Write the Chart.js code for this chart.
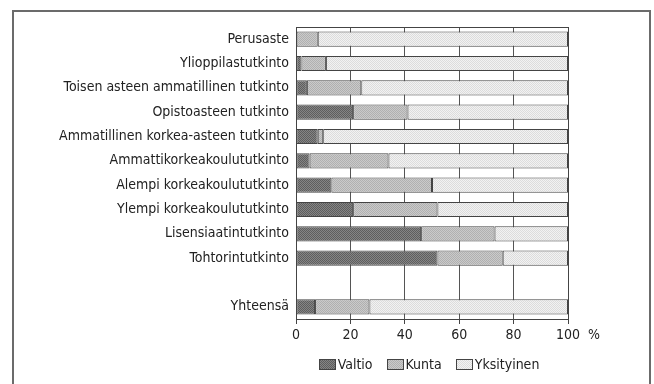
<!DOCTYPE html>
<html>
<head>
<meta charset="utf-8">
<script src="https://cdn.jsdelivr.net/npm/chart.js@4.4.0/dist/chart.umd.min.js"></script>
<style>
  html, body { margin: 0; padding: 0; background: #fff; overflow: hidden; }
  #wrap { position: relative; width: 654px; height: 384px; }
  #frame { position: absolute; left: 12px; top: 10px; width: 639px; height: 400px; border: 2px solid #6b6b6b; box-sizing: border-box; }
  #chart { position: absolute; left: 0; top: 0; }
</style>
</head>
<body>
<div id="wrap">
  <div id="frame"></div>
  <canvas id="chart" width="654" height="384"></canvas>
</div>
<script>
// degree levels, last row is the total (empty row as spacer)
const categories = [
  'Perusaste',
  'Ylioppilastutkinto',
  'Toisen asteen ammatillinen tutkinto',
  'Opistoasteen tutkinto',
  'Ammatillinen korkea-asteen tutkinto',
  'Ammattikorkeakoulututkinto',
  'Alempi korkeakoulututkinto',
  'Ylempi korkeakoulututkinto',
  'Lisensiaatintutkinto',
  'Tohtorintutkinto',
  '',
  'Yhteensä'
];
const valtio     = [0, 2, 4, 21, 8, 5, 13, 21, 46, 52, null, 7];
const kunta      = [8, 9, 20, 20, 2, 29, 37, 31, 27, 24, null, 20];
const yksityinen = [92, 89, 76, 59, 90, 66, 50, 48, 27, 24, null, 73];
const xTicks = [0, 20, 40, 60, 80, 100];

const FONT = '"Liberation Sans Narrow", "DejaVu Sans Condensed", sans-serif';
const SIZE = 14;
const TEXT = '#222';
const LINE = '#444';

// small stipple tiles so the fills look like the printed raster
function stipple(base, dot) {
  const c = document.createElement('canvas');
  c.width = 2; c.height = 2;
  const g = c.getContext('2d');
  g.fillStyle = base;
  g.fillRect(0, 0, 2, 2);
  g.fillStyle = dot;
  g.fillRect(0, 0, 1, 1);
  g.fillRect(1, 1, 1, 1);
  return g.createPattern(c, 'repeat');
}

const fills = [
  stipple('#858585', '#5e5e5e'),
  stipple('#cacaca', '#b0b0b0'),
  stipple('#f2f2f2', '#dcdcdc')
];

const extras = {
  id: 'extras',
  afterDatasetsDraw(chart) {
    const { ctx, chartArea: a } = chart;
    ctx.save();
    ctx.strokeStyle = LINE;
    ctx.lineWidth = 1;
    ctx.strokeRect(Math.round(a.left) + 0.5, Math.round(a.top) + 0.5,
      Math.round(a.right - a.left), Math.round(a.bottom - a.top));
    ctx.restore();
  },
  afterDraw(chart) {
    const { ctx, chartArea: a } = chart;
    const x = chart.scales.x;
    ctx.save();
    ctx.font = SIZE + 'px ' + FONT;
    ctx.fillStyle = TEXT;
    ctx.textBaseline = 'middle';

    // percent sign after the last tick label
    const px = x.getPixelForValue(100);
    const w100 = ctx.measureText('100').width;
    ctx.textAlign = 'left';
    ctx.fillText('%', px + w100 / 2 + 8, 335);

    // legend, centred under the plot
    const items = chart.data.datasets.map((d, i) => ({ label: d.label, fill: fills[i] }));
    const boxW = 17, boxH = 11, gapText = 2, gapItem = 14;
    let total = 0;
    items.forEach((it, i) => {
      it.w = ctx.measureText(it.label).width;
      total += boxW + gapText + it.w + (i < items.length - 1 ? gapItem : 0);
    });
    let cx = (a.left + a.right) / 2 - 3 - total / 2;
    const cy = 365;
    items.forEach(it => {
      ctx.fillStyle = it.fill;
      ctx.fillRect(Math.round(cx), cy - 6, boxW, boxH);
      ctx.strokeStyle = LINE;
      ctx.strokeRect(Math.round(cx) + 0.5, cy - 6 + 0.5, boxW - 1, boxH - 1);
      ctx.fillStyle = TEXT;
      ctx.fillText(it.label, cx + boxW + gapText, cy);
      cx += boxW + gapText + it.w + gapItem;
    });
    ctx.restore();
  }
};

new Chart(document.getElementById('chart'), {
  type: 'bar',
  data: {
    labels: categories,
    datasets: [
      { label: 'Valtio', data: valtio, backgroundColor: fills[0] },
      { label: 'Kunta', data: kunta, backgroundColor: fills[1] },
      { label: 'Yksityinen', data: yksityinen, backgroundColor: fills[2] }
    ]
  },
  options: {
    indexAxis: 'y',
    responsive: false,
    animation: false,
    datasets: {
      bar: {
        borderColor: LINE,
        borderWidth: 1,
        borderSkipped: false,
        categoryPercentage: 1,
        barPercentage: 0.62
      }
    },
    layout: { padding: { left: 13, right: 86, top: 27, bottom: 39 } },
    plugins: {
      legend: { display: false },
      tooltip: { enabled: false }
    },
    scales: {
      x: {
        stacked: true,
        min: 0,
        max: 100,
        afterBuildTicks: s => { s.ticks = xTicks.map(v => ({ value: v })); },
        afterFit: s => { s.height = 26; },
        grid: { color: '#555', lineWidth: 1, drawTicks: true, tickLength: 5, tickColor: LINE },
        border: { display: true, color: LINE, width: 1 },
        ticks: { padding: 2.5, color: TEXT, font: { family: FONT, size: SIZE } }
      },
      y: {
        stacked: true,
        afterFit: s => { s.width = 283; },
        grid: { display: false, drawTicks: false },
        border: { display: true, color: LINE, width: 1 },
        ticks: { padding: 7, color: TEXT, autoSkip: false, font: { family: FONT, size: SIZE } }
      }
    }
  },
  plugins: [extras]
});
</script>
</body>
</html>
